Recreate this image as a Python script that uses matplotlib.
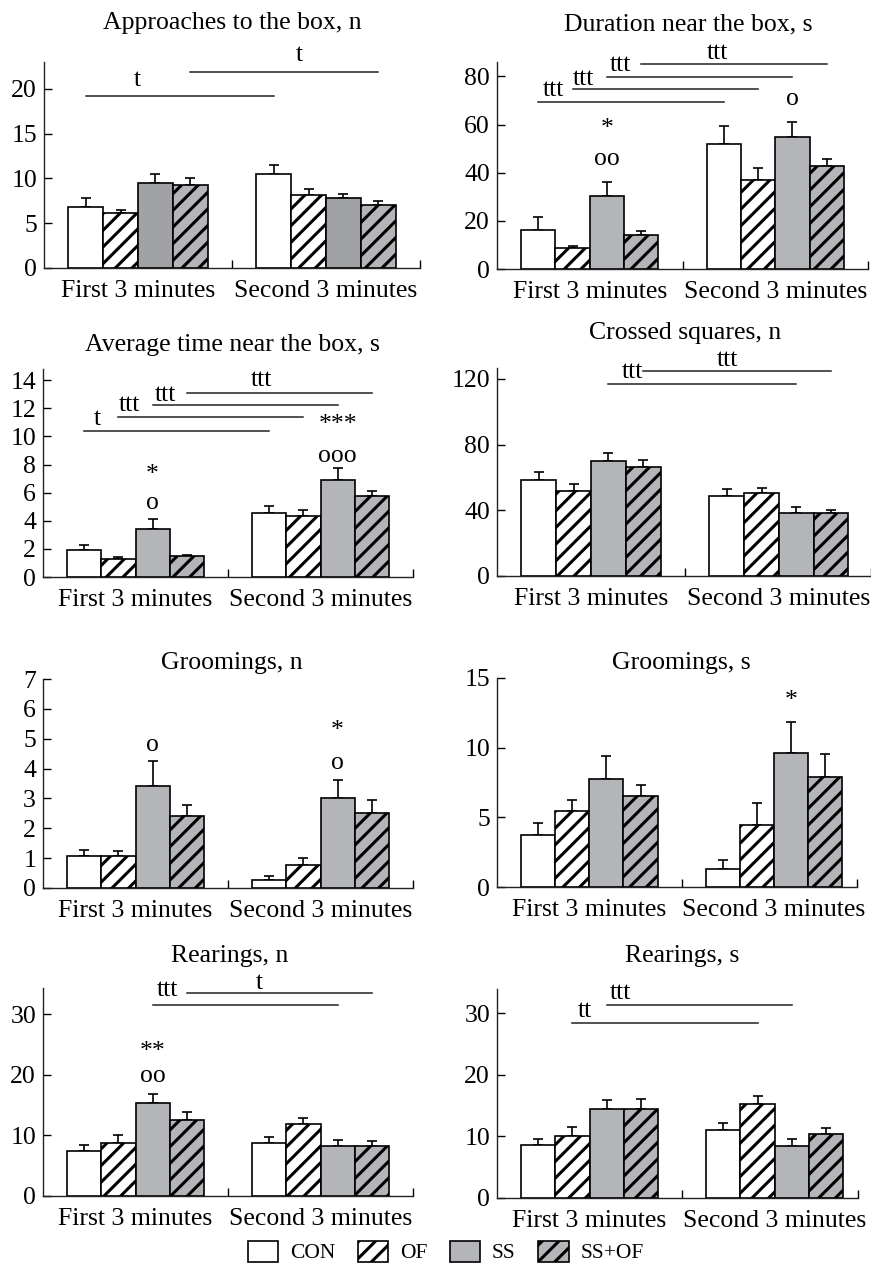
import numpy as np
import matplotlib
matplotlib.use('Agg')
import matplotlib.pyplot as plt
import matplotlib.transforms as mtransforms
from matplotlib.patches import Patch

plt.rcParams['font.family'] = ['Liberation Serif', 'DejaVu Serif']
plt.rcParams['hatch.linewidth'] = 2.2

groups = ['First 3 minutes', 'Second 3 minutes']
series = ['CON', 'OF', 'SS', 'SS+OF']

# Mittelwerte und Fehler je Gruppe: [CON, OF, SS, SS+OF]
approach_mean = [[6.8, 6.1, 9.5, 9.3], [10.5, 8.1, 7.8, 7.0]]
approach_err = [[1.0, 0.4, 1.0, 0.7], [1.0, 0.7, 0.5, 0.5]]

duration_mean = [[16.3, 8.6, 30.4, 14.0], [52.0, 37.0, 55.0, 42.6]]
duration_err = [[5.3, 1.1, 5.7, 1.6], [7.6, 4.8, 6.2, 3.2]]

avgtime_mean = [[1.9, 1.28, 3.42, 1.5], [4.56, 4.32, 6.88, 5.77]]
avgtime_err = [[0.4, 0.17, 0.73, 0.09], [0.49, 0.45, 0.9, 0.33]]

crossed_mean = [[58.3, 51.8, 69.8, 66.4], [48.5, 50.6, 38.6, 38.6]]
crossed_err = [[5.1, 4.0, 5.3, 4.5], [4.5, 3.2, 3.2, 1.8]]

groom_n_mean = [[1.07, 1.08, 3.42, 2.4], [0.26, 0.78, 3.01, 2.51]]
groom_n_err = [[0.21, 0.15, 0.85, 0.39], [0.14, 0.22, 0.6, 0.43]]

groom_s_mean = [[3.71, 5.45, 7.78, 6.56], [1.27, 4.45, 9.64, 7.87]]
groom_s_err = [[0.86, 0.79, 1.6, 0.76], [0.69, 1.55, 2.23, 1.68]]

rear_n_mean = [[7.47, 8.79, 15.38, 12.58], [8.79, 11.81, 8.3, 8.3]]
rear_n_err = [[0.94, 1.31, 1.42, 1.27], [0.88, 1.05, 0.99, 0.77]]

rear_s_mean = [[8.57, 10.09, 14.43, 14.38], [11.0, 15.19, 8.46, 10.36]]
rear_s_err = [[0.98, 1.41, 1.41, 1.72], [1.1, 1.41, 1.09, 0.98]]

# Signifikanzlinien: (Balken, Hoehe, Text, Text x, Text y)
approach_sig = [(0, 19.2, 't', 0.495, 21.0), (3, 21.9, 't', 1.36, 23.8)]
duration_sig = [(0, 69.2, 'ttt', 0.306, 74.5), (1, 74.7, 'ttt', 0.468, 79.0),
                (2, 79.9, 'ttt', 0.667, 84.8), (3, 85.3, 'ttt', 1.19, 89.7)]
avgtime_sig = [(0, 10.39, 't', 0.294, 11.27), (1, 11.39, 'ttt', 0.468, 12.22),
               (2, 12.22, 'ttt', 0.66, 12.98), (3, 13.12, 'ttt', 1.18, 14.0)]
crossed_sig = [(2, 117.2, 'ttt', 0.72, 124.5), (3, 124.9, 'ttt', 1.226, 131.5)]
rear_n_sig = [(2, 31.54, 'ttt', 0.672, 33.96), (3, 33.5, 't', 1.171, 35.2)]
rear_s_sig = [(1, 28.38, 'tt', 0.477, 30.28), (2, 31.25, 'ttt', 0.667, 33.26)]

# Sterne / Kreise ueber den Balken: (Gruppe, Balken, Text, y)
duration_marks = [(0, 2, '*', 60.3), (0, 2, 'oo', 45.7), (1, 2, 'o', 70.6)]
avgtime_marks = [(0, 2, '*', 7.6), (0, 2, 'o', 5.27), (1, 2, '***', 11.2), (1, 2, 'ooo', 8.59)]
groom_n_marks = [(0, 2, 'o', 4.79), (1, 2, '*', 5.41), (1, 2, 'o', 4.2)]
groom_s_marks = [(1, 2, '*', 13.73)]
rear_n_marks = [(0, 2, '**', 24.6), (0, 2, 'oo', 19.8)]

W, H = 871, 1266
fig = plt.figure(figsize=(W / 100, H / 100), dpi=100)

bw = 0.185
fs = 18.5
gray = '#b3b5b8'

# (Titel, Mittel, Fehler, Linien, Marken, left, top, zero, width, ymax, xmax, yticks, title x, title y, SS-Farbe)
panels = [
    ('Approaches to the box, n', approach_mean, approach_err, approach_sig, [],
     44, 62, 268, 376, 23, 2.0, [0, 5, 10, 15, 20], 232, 29, '#a0a2a5'),
    ('Duration near the box, s', duration_mean, duration_err, duration_sig, duration_marks,
     497, 62, 269, 371, 86, 2.0, [0, 20, 40, 60, 80], 688, 30, gray),
    ('Average time near the box, s', avgtime_mean, avgtime_err, avgtime_sig, avgtime_marks,
     43, 369, 577, 370, 14.8, 2.0, list(range(0, 15, 2)), 232, 351, gray),
    ('Crossed squares, n', crossed_mean, crossed_err, crossed_sig, [],
     497, 368, 576, 374, 126.7, 1.99, [0, 40, 80, 120], 685, 339, gray),
    ('Groomings, n', groom_n_mean, groom_n_err, [], groom_n_marks,
     43, 679, 888, 370, 7.0, 2.0, list(range(0, 8)), 232, 669, gray),
    ('Groomings, s', groom_s_mean, groom_s_err, [], groom_s_marks,
     497, 678, 887, 360, 15.0, 1.95, [0, 5, 10, 15], 681, 669, gray),
    ('Rearings, n', rear_n_mean, rear_n_err, rear_n_sig, rear_n_marks,
     43, 988, 1196, 370, 34.3, 2.0, [0, 10, 20, 30], 230, 962, gray),
    ('Rearings, s', rear_s_mean, rear_s_err, rear_s_sig, [],
     497, 989, 1198, 361, 33.9, 1.95, [0, 10, 20, 30], 682, 962, gray),
]

def center(g, i):
    return g + 0.5 + (i - 1.5) * bw

for (title, mean, err, sig, marks, left, top, zero, width, ymax, xmax,
     yticks, tx, ty, ss_col) in panels:
    ax = fig.add_axes([left / W, 1 - zero / H, width / W, (zero - top) / H])
    faces = ['white', 'white', ss_col, gray]
    hatches = [None, '//', None, '//']
    for g in range(2):
        for i in range(4):
            x = center(g, i)
            ax.bar(x, mean[g][i], width=bw, color=faces[i], edgecolor='black',
                   hatch=hatches[i], linewidth=1.2, zorder=3)
            ax.errorbar(x, mean[g][i], yerr=[[0], [err[g][i]]], fmt='none',
                        ecolor='black', elinewidth=1.2, capsize=3.5, capthick=1.2, zorder=2)
    for b, y, lab, lx, ly in sig:
        ax.plot([center(0, b), center(1, b)], [y, y], color='#222222', lw=1.1, clip_on=False)
        ax.text(lx, ly, lab, ha='center', va='center', fontsize=fs, clip_on=False)
    # Sternchen sitzen hoch in der Schrift -> etwas nach unten schieben
    star_tr = mtransforms.offset_copy(ax.transData, fig=fig, x=0, y=-3.6, units='points')
    for g, i, lab, y in marks:
        tr = star_tr if '*' in lab else ax.transData
        ax.text(center(g, i), y, lab, ha='center', va='center', fontsize=fs,
                transform=tr, clip_on=False)

    ax.set_xlim(0, xmax)
    ax.set_ylim(0, ymax)
    ax.set_yticks(yticks)
    ax.set_xticks([0.5, 1.5])
    ax.set_xticklabels(groups)
    ax.set_xticks([1.0, xmax], minor=True)
    ax.tick_params(axis='x', which='major', length=0, pad=8.5, labelsize=fs)
    ax.tick_params(axis='x', which='minor', direction='in', length=6, width=1)
    ax.tick_params(axis='y', direction='in', length=6, width=1, pad=5, labelsize=fs)
    for s in ['top', 'right']:
        ax.spines[s].set_visible(False)
    for s in ['left', 'bottom']:
        ax.spines[s].set_linewidth(1.0)
        ax.spines[s].set_color('#222222')
    fig.text(tx / W, 1 - ty / H, title, ha='center', va='baseline', fontsize=fs)

# Legende
handles = [Patch(facecolor='white', edgecolor='black', linewidth=1.2),
           Patch(facecolor='white', edgecolor='black', hatch='//', linewidth=1.2),
           Patch(facecolor=gray, edgecolor='black', linewidth=1.2),
           Patch(facecolor=gray, edgecolor='black', hatch='//', linewidth=1.2)]
fig.legend(handles, series, loc='center', bbox_to_anchor=(446 / W, 1 - 1252 / H),
           ncol=4, frameon=False, fontsize=15.5, handlelength=1.4, handleheight=1.15,
           handletextpad=0.55, columnspacing=1.05, borderpad=0)

fig.savefig('out.png', dpi=100)
